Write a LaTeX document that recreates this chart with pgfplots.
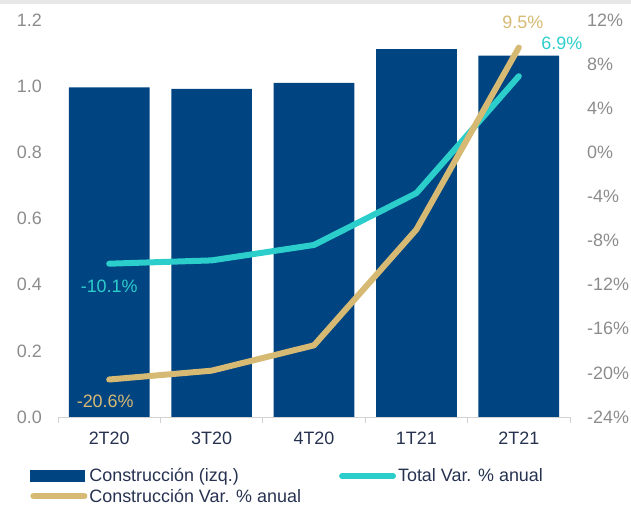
\documentclass[border=0pt]{standalone}
\usepackage{fontspec}
\setmainfont{Liberation Sans}
\usepackage{pgfplots}
\pgfplotsset{compat=1.18}
\definecolor{barblue}{RGB}{0,68,129}
\definecolor{tealc}{RGB}{44,206,204}
\definecolor{goldc}{RGB}{214,186,115}
\definecolor{ticgray}{RGB}{140,140,140}
\definecolor{navytxt}{RGB}{38,50,80}
\definecolor{axgray}{RGB}{210,210,210}
\newcommand{\fs}{\fontsize{18}{21}\selectfont}
\begin{document}
\begin{tikzpicture}[x=1bp,y=1bp]
\useasboundingbox (0,0) rectangle (631,506);
\fill[gray!18] (0,502) rectangle (631,506);
\begin{axis}[
  at={(58bp,89bp)}, anchor=south west,
  width=512bp, height=397bp, scale only axis,
  xmin=-0.5, xmax=4.5, ymin=0, ymax=1.2,
  axis y line*=left, axis x line*=bottom,
  y axis line style={draw=none},
  x axis line style={draw=axgray, line width=0.8bp, -},
  xtick={0,1,2,3,4},
  xticklabels={2T20,3T20,4T20,1T21,2T21},
  minor xtick={-0.5,0.5,1.5,2.5,3.5,4.5},
  minor x tick style={draw=axgray, line width=0.8bp},
  major x tick style={draw=none},
  major y tick style={draw=none},
  minor tick length=6bp,
  major tick length=0pt,
  tick align=outside,
  ytick={0,0.2,0.4,0.6,0.8,1.0,1.2},
  /pgf/number format/assume math mode=true,
  yticklabel style={font=\fs, text=ticgray, anchor=east, inner sep=0pt,
    /pgf/number format/.cd, fixed, fixed zerofill, precision=1},
  yticklabel shift=16bp,
  xticklabel style={font=\fs, text=navytxt, anchor=north, inner sep=0pt},
  xticklabel shift=15bp,
  clip=false,
]
\addplot[ybar, bar width=0.788, fill=barblue, draw=none, bar shift=0pt]
  coordinates {(0,0.996) (1,0.992) (2,1.010) (3,1.112) (4,1.092)};
\end{axis}
\begin{axis}[
  at={(58bp,89bp)}, anchor=south west,
  width=512bp, height=397bp, scale only axis,
  xmin=-0.5, xmax=4.5, ymin=-24, ymax=12,
  axis y line*=right, axis x line=none,
  y axis line style={draw=none},
  major y tick style={draw=none},
  major tick length=0pt,
  ytick={-24,-20,-16,-12,-8,-4,0,4,8,12},
  /pgf/number format/assume math mode=true,
  yticklabel={\pgfmathprintnumber{\tick}\%},
  yticklabel style={font=\fs, text=ticgray, anchor=west, inner sep=0pt},
  yticklabel shift=17bp,
  clip=false,
  legend columns=2,
  legend cell align=left,
  legend style={at={(-0.0547,-0.127)}, anchor=north west, draw=none, fill=none,
    inner sep=0pt, font=\fs, text=navytxt, row sep=3.5bp,
    nodes={inner xsep=2bp, inner ysep=1bp, anchor=west},
    /tikz/every even column/.append style={column sep=36bp}},
]
\addlegendimage{legend image code/.code={\fill[barblue] (0bp,-5.5bp) rectangle (54bp,5.5bp);}}
\addlegendentry{Construcción (izq.)}
\addplot[color=tealc, line width=6bp, line cap=round, line join=round, no marks,
  legend image code/.code={\draw[tealc, line width=6bp, line cap=round] (3bp,0bp) -- (54bp,0bp);}]
  coordinates {(0,-10.1) (1,-9.8) (2,-8.4) (3,-3.7) (4,6.9)};
\addlegendentry{Total Var. \% anual}
\addplot[color=goldc, line width=6bp, line cap=round, line join=round, no marks,
  legend image code/.code={\draw[goldc, line width=6bp, line cap=round] (3bp,0bp) -- (54bp,0bp);}]
  coordinates {(0,-20.6) (1,-19.8) (2,-17.5) (3,-7.0) (4,9.5)};
\addlegendentry{Construcción Var. \% anual}
\node[font=\fs, text=tealc, inner sep=0pt] at (axis cs:0,-10.1) [yshift=-22.5bp] {-10.1\%};
\node[font=\fs, text=goldc, inner sep=0pt] at (axis cs:0,-20.6) [yshift=-22bp, xshift=-4bp] {-20.6\%};
\node[font=\fs, text=goldc, inner sep=0pt] at (axis cs:4,9.5) [yshift=25bp, xshift=4bp] {9.5\%};
\node[font=\fs, text=tealc, inner sep=0pt] at (axis cs:4,6.9) [yshift=33bp, xshift=43bp] {6.9\%};
\end{axis}
\end{tikzpicture}
\end{document}
